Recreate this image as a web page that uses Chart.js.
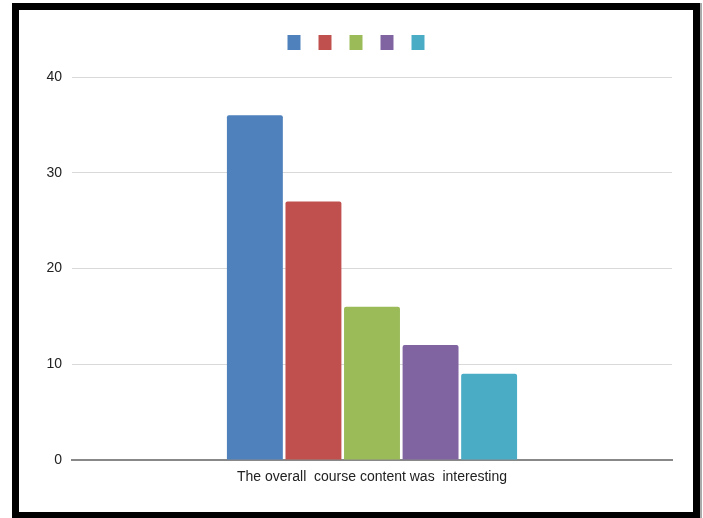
<!DOCTYPE html>
<html lang="en">
<head>
  <meta charset="UTF-8">
  <title>Course content chart</title>
  <script src="https://cdn.jsdelivr.net/npm/chart.js"></script>
  <style>
    body { margin: 0; background: #fff; }
    #wrap { position: relative; width: 703px; height: 518px; overflow: hidden; }
    #frame {
      position: absolute; left: 12px; top: 3px; width: 688px; height: 516px;
      box-sizing: border-box; border: 7px solid #000; pointer-events: none;
      box-shadow: 2px 0 0 #aaa;
    }
  </style>
</head>
<body>
  <div id="wrap">
    <canvas id="chart" width="703" height="518"></canvas>
    <div id="frame"></div>
  </div>

  <script>
    const categories = ['The overall  course content was  interesting'];
    const seriesValues = [36, 27, 16, 12, 9];
    const seriesColors = ['#4F81BD', '#C0504D', '#9BBB59', '#8064A2', '#4BACC6'];
    const yTicks = [0, 10, 20, 30, 40];

    const font = "'Liberation Sans', Arial, sans-serif";

    // legend has no text, keep its box at a fixed height so the plot top lands right
    const legendHeight = {
      id: 'legendHeight',
      beforeInit(chart) {
        const fit = chart.legend.fit;
        chart.legend.fit = function () {
          fit.bind(chart.legend)();
          this.height = 54;
        };
      }
    };

    const ctx = document.getElementById('chart').getContext('2d');
    new Chart(ctx, {
      type: 'bar',
      data: {
        labels: categories,
        datasets: seriesValues.map((v, i) => ({
          label: '',
          data: [v],
          backgroundColor: seriesColors[i],
          borderRadius: 2,
          borderSkipped: 'start',
          categoryPercentage: 0.488,
          barPercentage: 0.955,
        })),
      },
      options: {
        responsive: false,
        animation: false,
        layout: { padding: { top: 23, left: 46, right: 31, bottom: 0 } },
        plugins: {
          tooltip: { enabled: false },
          legend: {
            position: 'top',
            labels: {
              boxWidth: 13,
              boxHeight: 15,
              padding: 12,
              font: { size: 12, family: font },
            },
          },
        },
        scales: {
          x: {
            grid: { display: false, drawTicks: false },
            border: { display: true, color: '#888', width: 2 },
            ticks: { color: '#222', padding: 9, font: { size: 14, family: font } },
            afterFit(scale) { scale.height = 58; },
          },
          y: {
            min: 0,
            max: 40,
            afterBuildTicks(scale) { scale.ticks = yTicks.map(v => ({ value: v })); },
            grid: { color: '#d9d9d9', lineWidth: 1, drawTicks: false },
            border: { display: false },
            ticks: { color: '#222', padding: 10, font: { size: 14, family: font } },
            afterFit(scale) { scale.width = 26; },
          },
        },
      },
      plugins: [legendHeight],
    });
  </script>
</body>
</html>
